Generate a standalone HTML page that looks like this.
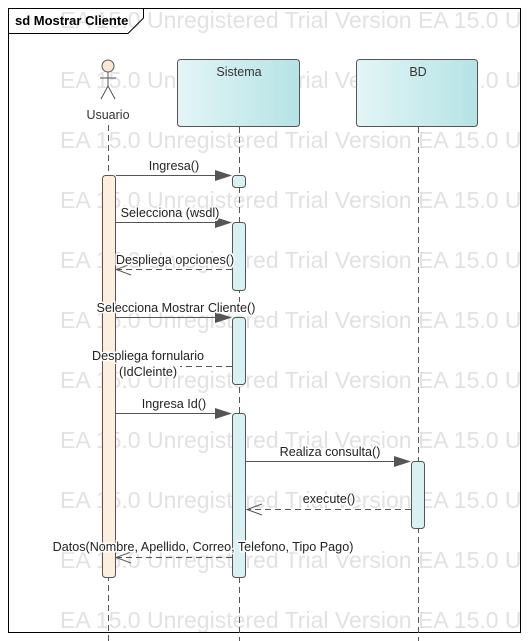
<!DOCTYPE html>
<html><head><meta charset="utf-8"><style>
html,body{margin:0;padding:0;background:#fff;}
svg{display:block;font-family:"Liberation Sans",sans-serif;}
.lb text{paint-order:stroke;stroke:#fff;stroke-width:3px;}
</style></head><body>
<svg width="529" height="641" viewBox="0 0 529 641" xmlns="http://www.w3.org/2000/svg">
<defs>
<linearGradient id="g" x1="0" x2="1" y1="0" y2="0"><stop offset="0" stop-color="#e4f5f6"/><stop offset="1" stop-color="#b5e3e6"/></linearGradient>
<clipPath id="c"><rect x="0" y="0" width="521" height="641"/></clipPath>
</defs>
<rect x="0" y="0" width="529" height="641" fill="#fff"/>
<g clip-path="url(#c)" fill="#e2e2e2" font-size="23">
<text x="60" y="28">EA 15.0 Unregistered Trial Version EA 15.0 Unregistered</text>
<text x="60" y="88">EA 15.0 Unregistered Trial Version EA 15.0 Unregistered</text>
<text x="60" y="148">EA 15.0 Unregistered Trial Version EA 15.0 Unregistered</text>
<text x="60" y="208">EA 15.0 Unregistered Trial Version EA 15.0 Unregistered</text>
<text x="60" y="268">EA 15.0 Unregistered Trial Version EA 15.0 Unregistered</text>
<text x="60" y="328">EA 15.0 Unregistered Trial Version EA 15.0 Unregistered</text>
<text x="60" y="388">EA 15.0 Unregistered Trial Version EA 15.0 Unregistered</text>
<text x="60" y="448">EA 15.0 Unregistered Trial Version EA 15.0 Unregistered</text>
<text x="60" y="508">EA 15.0 Unregistered Trial Version EA 15.0 Unregistered</text>
<text x="60" y="568">EA 15.0 Unregistered Trial Version EA 15.0 Unregistered</text>
<text x="60" y="628">EA 15.0 Unregistered Trial Version EA 15.0 Unregistered</text>
</g>
<rect x="8.5" y="8.5" width="512" height="624" fill="none" stroke="#000"/>
<path d="M8.5 33.5 H128 L143.5 18 V8.5" fill="none" stroke="#000"/>
<text x="15" y="25" font-size="13" font-weight="bold" fill="#000">sd Mostrar Cliente</text>

<g stroke="#555" stroke-width="1" fill="none">
<circle cx="108" cy="66" r="6" fill="#fbe8d2"/>
<line x1="108" y1="72" x2="108" y2="86"/>
<line x1="100" y1="78" x2="116" y2="78"/>
<line x1="108" y1="86" x2="101" y2="99"/>
<line x1="108" y1="86" x2="115" y2="99"/>
</g>
<text x="108" y="119" font-size="12.5" text-anchor="middle" fill="#333">Usuario</text>

<rect x="177.5" y="59.5" width="122" height="67" rx="3" fill="url(#g)" stroke="#555"/>
<text x="239" y="76" font-size="12.5" text-anchor="middle" fill="#333">Sistema</text>
<rect x="356.5" y="59.5" width="121" height="67" rx="3" fill="url(#g)" stroke="#555"/>
<text x="418" y="76" font-size="12.5" text-anchor="middle" fill="#333">BD</text>

<g stroke="#555" stroke-dasharray="6,4">
<line x1="108.5" y1="125" x2="108.5" y2="641"/>
<line x1="239.5" y1="127" x2="239.5" y2="641"/>
<line x1="418.5" y1="127" x2="418.5" y2="641"/>
</g>

<rect x="102.5" y="175.5" width="13" height="402" rx="3" fill="#fdeedd" stroke="#555"/>
<g fill="#d9f1f2" stroke="#555">
<rect x="232.5" y="175.5" width="13" height="12" rx="3"/>
<rect x="232.5" y="222.5" width="13" height="68" rx="3"/>
<rect x="232.5" y="317.5" width="13" height="67" rx="3"/>
<rect x="232.5" y="413.5" width="13" height="164" rx="3"/>
<rect x="411.5" y="461.5" width="13" height="67" rx="3"/>
</g>

<g stroke="#555" fill="none">
<line x1="116" y1="175.5" x2="220" y2="175.5"/>
<line x1="116" y1="222.5" x2="220" y2="222.5"/>
<line x1="116" y1="317.5" x2="220" y2="317.5"/>
<line x1="116" y1="413.5" x2="220" y2="413.5"/>
<line x1="246" y1="461.5" x2="399" y2="461.5"/>
</g>
<g fill="#555">
<path d="M232 175.5 L215 170 L215 181 Z"/>
<path d="M232 222.5 L215 217 L215 228 Z"/>
<path d="M232 317.5 L215 312 L215 323 Z"/>
<path d="M232 413.5 L215 408 L215 419 Z"/>
<path d="M411 461.5 L394 456 L394 467 Z"/>
</g>
<g stroke="#555" fill="none" stroke-dasharray="6,4">
<line x1="232" y1="269.5" x2="117" y2="269.5"/>
<line x1="232" y1="366.5" x2="180" y2="366.5"/>
<line x1="411" y1="509.5" x2="247" y2="509.5"/>
<line x1="232" y1="557.5" x2="117" y2="557.5"/>
</g>
<g stroke="#555" fill="none">
<path d="M131 264 L116 269.5 L131 275"/>
<path d="M262 504 L247 509.5 L262 515"/>
<path d="M131 552 L116 557.5 L131 563"/>
</g>

<g class="lb" font-size="12.6" fill="#222" text-anchor="middle">
<text x="174" y="170">Ingresa()</text>
<text x="170" y="217">Selecciona (wsdl)</text>
<text x="175" y="264">Despliega opciones()</text>
<text x="176" y="312">Selecciona Mostrar Cliente()</text>
<text x="148" y="360">Despliega fornulario</text>
<text x="148" y="376">(IdCleinte)</text>
<text x="174" y="408">Ingresa Id()</text>
<text x="330" y="456">Realiza consulta()</text>
<text x="329" y="503">execute()</text>
<text x="203" y="551">Datos(Nombre, Apellido, Correo, Telefono, Tipo Pago)</text>
</g>
</svg>
</body></html>
